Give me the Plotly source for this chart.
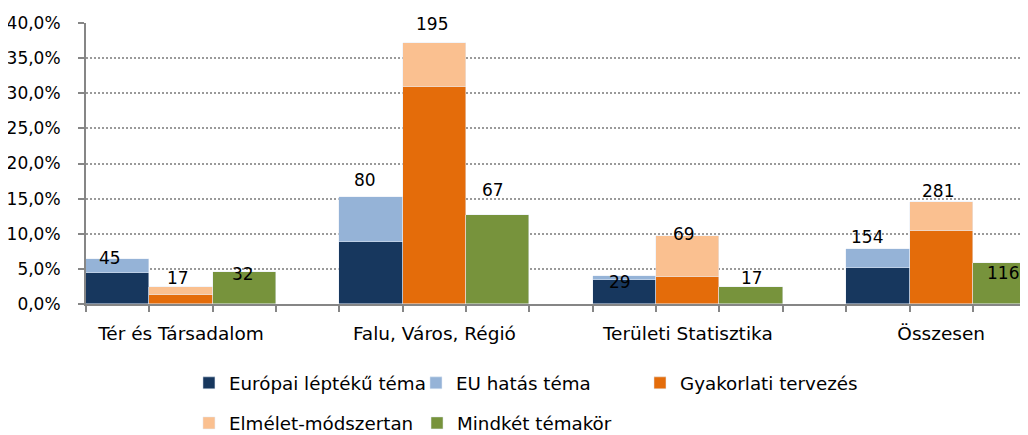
import plotly.graph_objects as go

# ---- data ----
categories = ["Tér és Társadalom", "Falu, Város, Régió", "Területi Statisztika", "Összesen"]
europai = [0.044, 0.088, 0.034, 0.051]      # Európai léptékű téma
eu_hatas = [0.020, 0.064, 0.006, 0.027]     # EU hatás téma
gyakorlati = [0.013, 0.309, 0.039, 0.104]   # Gyakorlati tervezés
elmelet = [0.011, 0.062, 0.058, 0.041]      # Elmélet-módszertan
mindket = [0.046, 0.127, 0.024, 0.059]      # Mindkét témakör

count_eu = [45, 80, 29, 154]
count_gyak = [17, 195, 69, 281]
count_mind = [32, 67, 17, 116]

# label placement (value-axis position of each count label, and small pixel nudges)
label_y_eu = [0.066, 0.1766, 0.0318, 0.0959]
label_y_gyak = [0.037, 0.398, 0.0997, 0.161]
label_y_mind = [0.0427, 0.162, 0.0366, 0.0446]
label_dx_eu = [-8, -6, -4, -11]
label_dx_gyak = [-3, -2, -4, -3]
label_dx_mind = [-1, -5, 1, -2]

FONT = "DejaVu Sans"
GRAY = "#868686"

n = len(categories)
x_eu = [4 * i + 0 for i in range(n)]
x_gy = [4 * i + 1 for i in range(n)]
x_mi = [4 * i + 2 for i in range(n)]

fig = go.Figure()
fig.add_bar(x=x_eu, y=europai, name="Európai léptékű téma", marker_color="#17375E", width=1, legend="legend")
fig.add_bar(x=x_eu, y=eu_hatas, name="EU hatás téma", marker_color="#95B3D7", width=1, legend="legend2")
fig.add_bar(x=x_gy, y=gyakorlati, name="Gyakorlati tervezés", marker_color="#E46C0A", width=1, legend="legend3")
fig.add_bar(x=x_gy, y=elmelet, name="Elmélet-módszertan", marker_color="#FAC090", width=1, legend="legend4")
fig.add_bar(x=x_mi, y=mindket, name="Mindkét témakör", marker_color="#77933C", width=1, legend="legend5")

annotations = []
for xs, counts, ys, dxs in [(x_eu, count_eu, label_y_eu, label_dx_eu),
                            (x_gy, count_gyak, label_y_gyak, label_dx_gyak),
                            (x_mi, count_mind, label_y_mind, label_dx_mind)]:
    for xv, c, yv, dx in zip(xs, counts, ys, dxs):
        annotations.append(dict(x=xv, y=yv, xref="x", yref="y", text=str(c), showarrow=False,
                                xshift=dx, yanchor="middle",
                                font=dict(family=FONT, size=17, color="#000000")))

legend_font = dict(family=FONT, size=18.3, color="#000000")


def leg(x, y):
    return dict(orientation="h", x=x, y=y, xanchor="left", yanchor="middle",
                font=legend_font, bgcolor="rgba(0,0,0,0)")


ROW1, ROW2 = -0.281, -0.4235

fig.update_layout(
    width=1020, height=427,
    margin=dict(l=78, r=0, t=15, b=131, autoexpand=False),
    paper_bgcolor="white", plot_bgcolor="white",
    barmode="stack", bargap=0,
    separators=", ",
    font=dict(family=FONT, size=17, color="#000000"),
    annotations=annotations,
    showlegend=True,
    legend=leg(0.1093, ROW1),
    legend2=leg(0.3503, ROW1),
    legend3=leg(0.5881, ROW1),
    legend4=leg(0.1093, ROW2),
    legend5=leg(0.3514, ROW2),
    xaxis=dict(range=[-0.5, 14.37], tickvals=[4 * i + 1 for i in range(n)], ticktext=categories,
               ticks="", showline=True, linecolor=GRAY, linewidth=2, showgrid=False, zeroline=False,
               ticklabelstandoff=12, automargin=False,
               minor=dict(ticks="outside", tick0=-0.5, dtick=1, ticklen=6, tickcolor=GRAY, tickwidth=2,
                          showgrid=False),
               tickfont=dict(family=FONT, size=18.5, color="#000000"), fixedrange=True),
    yaxis=dict(range=[0, 0.4], dtick=0.05, tick0=0, tickformat=".1%", showline=True, linecolor=GRAY,
               linewidth=2, ticks="outside", ticklen=6, tickcolor=GRAY, tickwidth=2,
               showgrid=True, gridcolor="#9a9a9a", griddash="2px,2px", gridwidth=1.5, zeroline=False,
               ticklabelstandoff=14, automargin=False,
               tickfont=dict(family=FONT, size=17, color="#000000"), fixedrange=True),
)

fig.write_html("out.html")
